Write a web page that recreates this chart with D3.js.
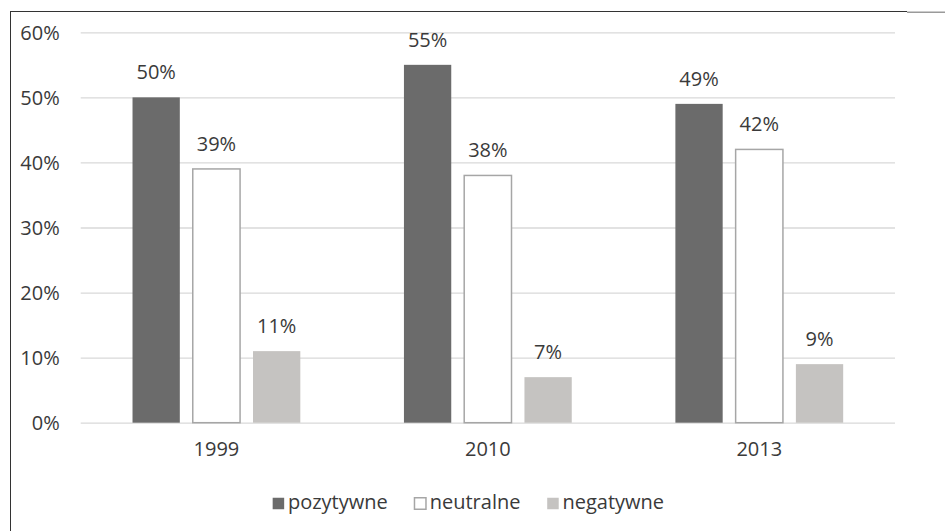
<!DOCTYPE html>
<html>
<head>
<meta charset="utf-8">
<script src="https://cdn.jsdelivr.net/npm/d3@7"></script>
<style>
  body { margin: 0; background: #fff; }
  text { font-family: "Open Sans", sans-serif; fill: #3a3a3a; }
</style>
</head>
<body>
<div id="graph"></div>
<script>
// data
var years = ["1999", "2010", "2013"];
var seriesNames = ["pozytywne", "neutralne", "negatywne"];
var pozytywne = [50, 55, 49];
var neutralne = [39, 38, 42];
var negatywne = [11, 7, 9];
var yTicks = [0, 10, 20, 30, 40, 50, 60];

var values = [pozytywne, neutralne, negatywne];
var colors = ["#6b6b6b", "#ffffff", "#c5c3c1"];
var strokes = ["none", "#a6a6a6", "none"];
var fontSize = "20px";

var svg = d3.select('#graph').append("svg")
  .attr('width', 945)
  .attr('height', 531);

var margin = {top: 32.3, right: 50, bottom: 108.3, left: 80.7},
  width = 895 - margin.left,
  height = 422.7 - margin.top,
  g = svg.append("g").attr("transform", "translate(" + margin.left + "," + margin.top + ")");

// outer frame (only top and left edges show)
svg.append("line").attr("x1", 10.5).attr("x2", 10.5).attr("y1", 11).attr("y2", 531)
  .attr("stroke", "#333").attr("stroke-width", 1);
svg.append("line").attr("x1", 10).attr("x2", 907).attr("y1", 11.5).attr("y2", 11.5)
  .attr("stroke", "#333").attr("stroke-width", 1);
svg.append("line").attr("x1", 907).attr("x2", 945).attr("y1", 12.3).attr("y2", 12.3)
  .attr("stroke", "#9a9a9a").attr("stroke-width", 1.5);

// scales
var x0 = d3.scaleBand().domain(years).range([0, width]);
var x1 = d3.scaleBand().domain(seriesNames).range([0, x0.bandwidth()])
  .paddingInner(0.215).paddingOuter(0.86);
var y = d3.scaleLinear().domain([0, 60]).range([height, 0]);

// gridlines + y labels
var yAxis = g.append("g")
  .call(d3.axisLeft(y).tickValues(yTicks).tickSize(-width).tickPadding(21)
    .tickFormat(function(d) { return d + "%"; }));
yAxis.select(".domain").remove();
yAxis.selectAll(".tick line").attr("stroke", "#d9d9d9").attr("stroke-width", 1.3);
yAxis.selectAll(".tick text").style("font-size", fontSize).attr("fill", "#3a3a3a")
  .style("font-family", "Open Sans, sans-serif").attr("dy", "0.36em");

// x axis labels
var xAxis = g.append("g")
  .attr("transform", "translate(0," + height + ")")
  .call(d3.axisBottom(x0).tickSize(0).tickPadding(19));
xAxis.select(".domain").remove();
xAxis.selectAll(".tick text").style("font-size", fontSize).attr("fill", "#3a3a3a")
  .style("font-family", "Open Sans, sans-serif");

// bars
var rows = [];
years.forEach(function(yr, i) {
  seriesNames.forEach(function(s, j) {
    rows.push({year: yr, series: s, idx: j, value: values[j][i]});
  });
});

g.selectAll(".bar")
  .data(rows)
  .enter().append("rect")
  .attr("class", "bar")
  .attr("x", function(d) { return x0(d.year) + x1(d.series); })
  .attr("width", x1.bandwidth())
  .attr("y", function(d) { return y(d.value); })
  .attr("height", function(d) { return height - y(d.value); })
  .attr("fill", function(d) { return colors[d.idx]; })
  .attr("stroke", function(d) { return strokes[d.idx]; })
  .attr("stroke-width", 1.5);

// value labels
g.selectAll(".val")
  .data(rows)
  .enter().append("text")
  .attr("class", "val")
  .attr("x", function(d) { return x0(d.year) + x1(d.series) + x1.bandwidth() / 2; })
  .attr("y", function(d) { return y(d.value) - 18; })
  .attr("text-anchor", "middle")
  .style("font-size", fontSize)
  .text(function(d) { return d.value + "%"; });

// legend
var legend = svg.append("g");
var lx = 0;
seriesNames.forEach(function(s, j) {
  var item = legend.append("g").attr("transform", "translate(" + lx + ",0)");
  item.append("rect")
    .attr("x", 0.75).attr("y", 497.75).attr("width", 11.5).attr("height", 11.5)
    .attr("fill", colors[j])
    .attr("stroke", j === 1 ? "#a6a6a6" : "none").attr("stroke-width", 1.5);
  var t = item.append("text").attr("x", 16).attr("y", 509)
    .style("font-size", fontSize).text(s);
  lx += 16 + t.node().getComputedTextLength() + 26;
});
var lw = lx - 26;
legend.attr("transform", "translate(" + (468 - lw / 2) + ",0)");
</script>
</body>
</html>
